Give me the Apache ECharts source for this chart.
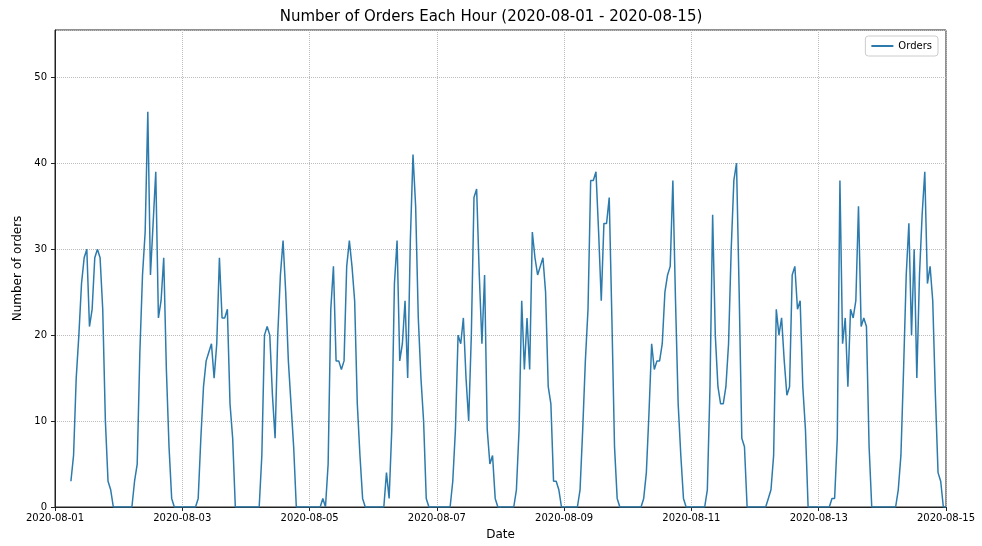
<!DOCTYPE html>
<html><head><meta charset="utf-8">
<script src="https://cdn.jsdelivr.net/npm/echarts@6/dist/echarts.min.js"></script>
<style>html,body{margin:0;padding:0;background:#fff}#c{width:982px;height:546px}</style>
</head><body><div id="c"></div>
<script>
// hourly orders, each day h0..h23 (null = no data)
var day01 = [null,null,null,null,null,null,3,6,15,20,26,29,30,21,23,29,30,29,23,10,3,2,0,0];
var day02 = [0,0,0,0,0,0,3,5,18,27,32,46,27,33,39,22,24,29,16,7,1,0,0,0];
var day03 = [0,0,0,0,0,0,1,8,14,17,18,19,15,19,29,22,22,23,12,8,0,0,0,0];
var day04 = [0,0,0,0,0,0,6,20,21,20,13,8,20,27,31,25,17,12,7,0,0,0,0,0];
var day05 = [0,0,0,0,0,1,0,5,23,28,17,17,16,17,28,31,28,24,12,6,1,0,0,0];
var day06 = [0,0,0,0,0,4,1,9,26,31,17,19,24,15,31,41,35,22,15,10,1,0,0,0];
var day07 = [0,0,0,0,0,0,3,9,20,19,22,15,10,20,36,37,27,19,27,9,5,6,1,0];
var day08 = [0,0,0,0,0,0,2,9,24,16,22,16,32,29,27,28,29,25,14,12,3,3,2,0];
var day09 = [0,0,0,0,0,0,2,9,17,23,38,38,39,32,24,33,33,36,22,7,1,0,0,0];
var day10 = [0,0,0,0,0,0,1,4,11,19,16,17,17,19,25,27,28,38,24,12,6,1,0,0];
var day11 = [0,0,0,0,0,0,2,14,34,20,14,12,12,14,19,30,38,40,25,8,7,0,0,0];
var day12 = [0,0,0,0,0,1,2,6,23,20,22,17,13,14,27,28,23,24,14,9,0,0,0,0];
var day13 = [0,0,0,0,0,1,1,8,38,19,22,14,23,22,24,35,21,22,21,7,0,0,0,0];
var day14 = [0,0,0,0,0,0,2,6,16,27,33,20,30,15,27,34,39,26,28,24,13,4,3,0];
var day15 = [0];
var days = [day01,day02,day03,day04,day05,day06,day07,day08,day09,day10,day11,day12,day13,day14,day15];
var seriesName = 'Orders';
var yTicks = [0,10,20,30,40,50];

var H = 3600000, D = 24*H;
var t0 = Date.UTC(2020,7,1);
var data = [];
days.forEach(function(arr, d){
  arr.forEach(function(v, h){ if (v !== null) data.push([t0 + d*D + h*H, v]); });
});
function pad(n){return (n<10?'0':'')+n;}
var chart = echarts.init(document.getElementById('c'));
chart.setOption({
  animation:false,
  title:{text:'Number of Orders Each Hour (2020-08-01 - 2020-08-15)',left:'center',top:5,
    textStyle:{fontFamily:'DejaVu Sans',fontSize:15,fontWeight:'normal',color:'#000'}},
  legend:{data:[seriesName],right:44,top:36,orient:'vertical',itemWidth:22,itemHeight:2,
    icon:'rect',padding:[5,6],borderColor:'#ccc',borderWidth:1,borderRadius:3,
    textStyle:{fontFamily:'DejaVu Sans',fontSize:10,color:'#000'}},
  grid:{left:55,right:36,top:30,bottom:29,show:true,borderColor:'#222',borderWidth:1},
  xAxis:{type:'value',min:t0,max:t0+14*D,interval:2*D,
    name:'Date',nameLocation:'middle',nameGap:22,
    nameTextStyle:{fontFamily:'DejaVu Sans',fontSize:12,color:'#000'},
    axisLine:{lineStyle:{color:'#222'}},axisTick:{show:true,length:4,lineStyle:{color:'#222'}},
    axisLabel:{fontFamily:'DejaVu Sans',fontSize:10,color:'#000',margin:6,
      formatter:function(v){var d=new Date(v);return d.getUTCFullYear()+'-'+pad(d.getUTCMonth()+1)+'-'+pad(d.getUTCDate());}},
    splitLine:{show:true,lineStyle:{color:'#bbb',type:'dotted'}}},
  yAxis:{type:'value',min:0,max:55.5,interval:10,
    name:'Number of orders',nameLocation:'middle',nameGap:30,
    nameTextStyle:{fontFamily:'DejaVu Sans',fontSize:12,color:'#000'},
    axisLine:{show:true,lineStyle:{color:'#222'}},axisTick:{show:true,length:4,lineStyle:{color:'#222'}},
    axisLabel:{fontFamily:'DejaVu Sans',fontSize:10,color:'#000',showMaxLabel:false,
      formatter:function(v){return yTicks.indexOf(v)>=0?String(v):'';}},
    splitLine:{show:true,lineStyle:{color:'#bbb',type:'dotted'}}},
  series:[{name:seriesName,type:'line',data:data,showSymbol:false,
    lineStyle:{color:'#2d7bad',width:1.5},itemStyle:{color:'#2d7bad'}}]
});
</script></body></html>
